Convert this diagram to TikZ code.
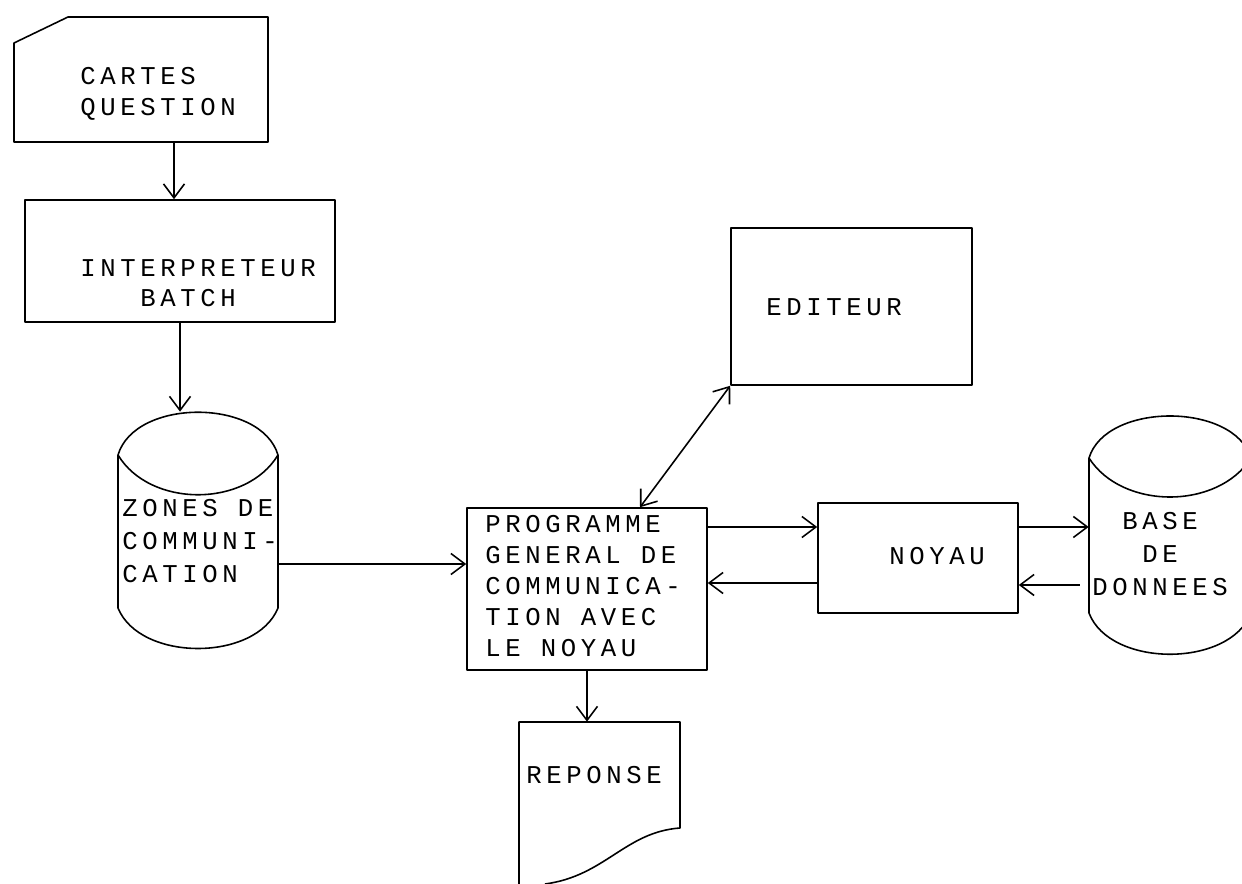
\documentclass[tikz,border=0pt]{standalone}
\usepackage{fontspec}
\newfontfamily\plotfont[LetterSpace=18]{Liberation Mono}
\usetikzlibrary{arrows.meta,calc}
\tikzset{
  outline/.style={draw, line width=0.9pt, line join=round},
  box/.style={outline, rectangle, inner sep=0pt},
  ghost/.style={rectangle, inner sep=0pt},
  lbl/.style={font=\plotfont\fontsize{14.6}{17.6}\selectfont, inner sep=0pt, align=left},
  arr/.style={line width=0.9pt, -{Straight Barb[length=0.28cm,width=0.42cm,line width=0.9pt]}},
  darr/.style={line width=0.9pt, {Straight Barb[length=0.28cm,width=0.42cm,line width=0.9pt]}-{Straight Barb[length=0.28cm,width=0.42cm,line width=0.9pt]}},
}
\begin{document}
\begin{tikzpicture}[x=0.02cm, y=-0.02cm]
\useasboundingbox (0,0) rectangle (1242,884);
\fill[white] (0,0) rectangle (1242,884);

% ---- shapes ----
\node[ghost, minimum width=5.08cm, minimum height=2.5cm] (cartes) at (141,79.5) {};
\draw[outline] (14,142) -- (14,43) -- (68,17) -- (268,17) -- (268,142) -- cycle;

\node[box, minimum width=6.2cm, minimum height=2.44cm] (interp) at (180,261) {};

\node[ghost, minimum width=3.2cm, minimum height=4.74cm] (zones) at (198,530.5) {};
\draw[outline] (118,455) .. controls (135,398) and (261,398) .. (278,455)
  .. controls (246,508) and (150,508) .. (118,455) -- (118,608)
  .. controls (140,662) and (256,662) .. (278,608) -- (278,455);

\node[box, minimum width=4.82cm, minimum height=3.14cm] (editeur) at (851.5,306.5) {};
\node[box, minimum width=4.8cm, minimum height=3.24cm] (prog) at (587,589) {};
\node[box, minimum width=4.0cm, minimum height=2.2cm] (noyau) at (918,558) {};

\node[ghost, minimum width=3.24cm, minimum height=4.7cm] (bdd) at (1170,537.5) {};
\draw[outline] (1089,458) .. controls (1106,402) and (1234,402) .. (1251,458)
  .. controls (1218,510) and (1122,510) .. (1089,458) -- (1089,613)
  .. controls (1110,668) and (1230,668) .. (1251,613) -- (1251,458);

\node[ghost, minimum width=3.22cm, minimum height=3.24cm] (reponse) at (599.5,803) {};
\draw[outline] (519,884) -- (519,722) -- (680,722) -- (680,828)
  .. controls (625,832) and (605,876) .. (545,884);

% ---- labels ----
\node[lbl, anchor=west] (tcartes) at (80,94) {CARTES\\QUESTION};
\node[lbl, anchor=west] (tinterp1) at (80,268) {INTERPRETEUR};
\node[lbl, anchor=west] (tinterp2) at (140,298) {BATCH};
\node[lbl, anchor=west, font=\plotfont\fontsize{14.6}{19}\selectfont] (tzones) at (122,541) {ZONES DE\\COMMUNI-\\CATION};
\node[lbl, anchor=center] (tedit) at (834,307) {EDITEUR};
\node[lbl, anchor=west] (tprog) at (485,586) {PROGRAMME\\GENERAL DE\\COMMUNICA-\\TION AVEC\\LE NOYAU};
\node[lbl, anchor=center] (tnoyau) at (937,556) {NOYAU};
\node[lbl, anchor=center, align=center, font=\plotfont\fontsize{14.6}{19}\selectfont] (tbdd) at (1160,554) {BASE\\DE\\DONNEES};
\node[lbl, anchor=center] (trep) at (594,775) {REPONSE};

% ---- connectors ----
\draw[arr] ($(cartes.south)+(33,0)$) -- ($(interp.north)+(-6,0)$);
\draw[arr] (interp.south) -- (interp.south |- zones.north);
\draw[arr] (zones.east |- 0,564) -- (prog.west |- 0,564);
\draw[darr] ($(prog.north)+(53,0)$) -- (editeur.south west);
\draw[arr] (prog.east |- 0,527) -- (noyau.west |- 0,527);
\draw[arr] (noyau.west |- 0,583) -- (prog.east |- 0,583);
\draw[arr] (noyau.east |- 0,527) -- (bdd.west |- 0,527);
\draw[arr] ($(bdd.west |- 0,585)+(-9,0)$) -- (noyau.east |- 0,585);
\draw[arr] (prog.south) -- (prog.south |- reponse.north);
\end{tikzpicture}
\end{document}
